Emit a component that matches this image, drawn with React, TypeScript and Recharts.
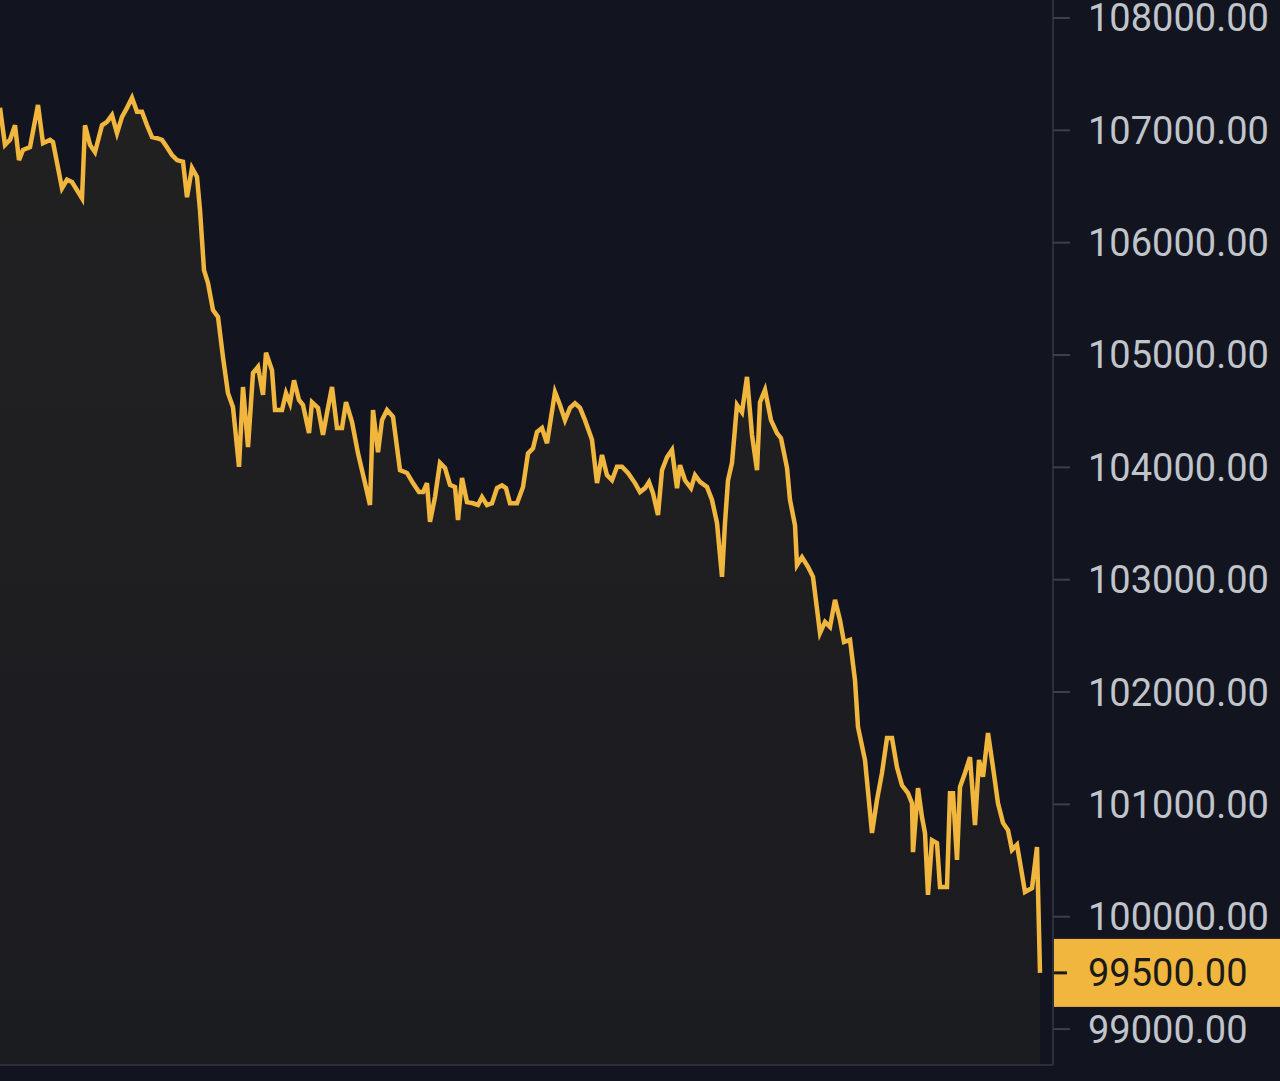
import React from 'react';
import { AreaChart, Area, XAxis, YAxis, ReferenceLine } from 'recharts';

// minutes since session start
const times = [
  0, 5, 10, 15, 19, 23, 30, 38, 43, 50, 53, 62, 67, 72, 82, 85, 90, 95, 102, 107,
  112, 117, 122, 127, 132, 137, 142, 147, 152, 157, 162, 167, 172, 177, 183, 187, 192, 197, 200, 204,
  208, 213, 218, 223, 228, 233, 239, 243, 248, 253, 258, 263, 266, 272, 275, 282, 286, 290, 294, 299,
  303, 309, 312, 318, 323, 327, 332, 337, 342, 346, 352, 358, 365, 370, 373, 378, 382, 387, 393, 400,
  407, 413, 419, 423, 427, 430, 435, 440, 445, 450, 455, 458, 462, 467, 473, 478, 482, 487, 492, 497,
  502, 506, 510, 517, 523, 528, 533, 537, 542, 547, 555, 560, 565, 570, 575, 580, 585, 592, 597, 602,
  607, 612, 617, 622, 628, 635, 640, 645, 649, 653, 658, 662, 667, 672, 677, 680, 685, 691, 695, 700,
  707, 712, 717, 722, 725, 728, 732, 737, 742, 747, 752, 757, 760, 765, 771, 777, 781, 787, 790, 795,
  797, 802, 808, 813, 820, 825, 830, 835, 840, 844, 850, 855, 858, 865, 872, 877, 882, 887, 892, 897,
  902, 908, 912, 913, 918, 922, 925, 928, 932, 937, 940, 947, 950, 953, 957, 960, 965, 970, 975, 979,
  983, 988, 993, 998, 1003, 1008, 1012, 1017, 1025, 1032, 1037, 1040,
];

const prices = [
  107200, 106870, 106915, 107045, 106735, 106825, 106850, 107225, 106885, 106915, 106895, 106485, 106560, 106540, 106395, 107045, 106870, 106805, 107045, 107075,
  107135, 106975, 107120, 107200, 107290, 107165, 107165, 107045, 106940, 106930, 106915, 106850, 106780, 106735, 106720, 106405, 106665, 106585, 106290, 105755,
  105640, 105400, 105340, 104980, 104660, 104535, 104005, 104715, 104180, 104840, 104895, 104645, 105020, 104865, 104510, 104510, 104660, 104570, 104775, 104600,
  104555, 104305, 104580, 104530, 104290, 104485, 104715, 104350, 104350, 104580, 104405, 104125, 103860, 103665, 104510, 104135, 104420, 104510, 104450, 103975,
  103950, 103860, 103780, 103780, 103860, 103515, 103735, 104040, 103995, 103845, 103825, 103530, 103905, 103690, 103680, 103665, 103735, 103665, 103680, 103815,
  103840, 103815, 103680, 103680, 103825, 104125, 104170, 104315, 104350, 104215, 104670, 104555, 104420, 104530, 104570, 104530, 104420, 104245, 103860, 104110,
  103930, 103885, 104005, 104005, 103950, 103860, 103780, 103815, 103870, 103770, 103575, 103975, 104090, 104155, 103815, 104020, 103885, 103815, 103930, 103870,
  103825, 103710, 103505, 103025, 103505, 103885, 104040, 104555, 104490, 104805, 104290, 103975, 104580, 104690, 104420, 104305, 104260, 103995, 103710, 103485,
  103130, 103200, 103115, 103025, 102525, 102625, 102580, 102820, 102640, 102445, 102465, 102105, 101690, 101395, 100745, 101040, 101280, 101590, 101590, 101330,
  101170, 101100, 101010, 100575, 101145, 100885, 100745, 100195, 100680, 100655, 100265, 100265, 101100, 101100, 100505, 101155, 101280, 101420, 100815, 101395,
  101245, 101635, 101330, 101010, 100835, 100770, 100595, 100640, 100220, 100255, 100620, 99500,
];

const priceTicks = [99000, 100000, 101000, 102000, 103000, 104000, 105000, 106000, 107000, 108000];
const timeTicks = [245, 580, 915];

const data = times.map((t, i) => ({ t, price: prices[i] }));
const lastPrice = prices[prices.length - 1];

const YELLOW = '#f0b63e';
const BG = '#12151f';
const AXIS = '#2b2f3a';
const FONT = 'Roboto, "Noto Sans", sans-serif';

function PriceTag(props: any) {
  const vb = props.viewBox || {};
  const x = vb.x + vb.width;
  const y = vb.y;
  return (
    <g>
      <rect x={x} y={y - 34} width={227} height={68} fill={YELLOW} />
      <line x1={x} x2={x + 14} y1={y} y2={y} stroke="#1a1a1a" strokeWidth={3} />
      <text x={x + 35} y={y} dominantBaseline="central" fill="#1a1a1a" fontSize={38} fontFamily={FONT}>
        {lastPrice.toFixed(2)}
      </text>
    </g>
  );
}

export default function App() {
  return (
    <div style={{ position: 'absolute', left: 0, top: 0, width: 1280, height: 1081, background: BG }}>
      <AreaChart width={1280} height={1081} data={data} margin={{ top: 0, right: 0, bottom: 0, left: 0 }}>
        <defs>
          <linearGradient id="fillA" x1="0" y1="0" x2="0" y2="1">
            <stop offset="0%" stopColor={YELLOW} stopOpacity={0.07} />
            <stop offset="100%" stopColor={YELLOW} stopOpacity={0.04} />
          </linearGradient>
        </defs>
        <XAxis
          dataKey="t"
          type="number"
          domain={[0, 1053]}
          ticks={timeTicks}
          height={16}
          tick={false}
          tickSize={13}
          axisLine={{ stroke: AXIS, strokeWidth: 2 }}
          tickLine={{ stroke: '#3a3f4b', strokeWidth: 2 }}
          allowDataOverflow
        />
        <YAxis
          orientation="right"
          width={227}
          domain={[98680, 108160]}
          ticks={priceTicks}
          interval={0}
          allowDataOverflow
          tickSize={17}
          tickMargin={18}
          axisLine={{ stroke: AXIS, strokeWidth: 2 }}
          tickLine={{ stroke: '#3a3f4b', strokeWidth: 2 }}
          tick={{ fill: '#c0c4cb', fontSize: 38, fontFamily: FONT, textAnchor: 'start' }}
          tickFormatter={(v: number) => v.toFixed(2)}
        />
        <Area
          type="linear"
          dataKey="price"
          stroke={YELLOW}
          strokeWidth={4.5}
          fill="url(#fillA)"
          fillOpacity={1}
          dot={false}
          activeDot={false}
          isAnimationActive={false}
        />
        <ReferenceLine y={lastPrice} stroke="none" label={(p: any) => <PriceTag {...p} />} />
      </AreaChart>
    </div>
  );
}
